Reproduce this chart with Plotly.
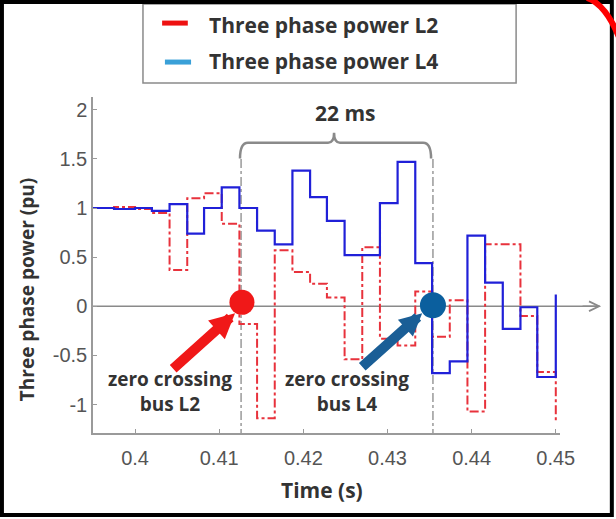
import plotly.graph_objects as go

# ---- data ----
time_s = [0.395, 0.3975, 0.400, 0.4020, 0.4041, 0.4062, 0.4082, 0.4103, 0.4124,
          0.4145, 0.4166, 0.4187, 0.4208, 0.4228, 0.4249, 0.4270, 0.4291, 0.4312,
          0.4333, 0.4353, 0.4374, 0.4395, 0.4416, 0.4437, 0.4458, 0.4478, 0.4500]
power_L2 = [1.00, 1.01, 0.99, 0.95, 0.37, 1.10, 1.15, 0.84, -0.18,
            -1.14, 0.57, 0.35, 0.23, 0.09, -0.54, 0.60, -0.33, -0.40,
            0.15, -0.31, 0.06, -1.07, 0.63, 0.63, -0.10, -0.67, -1.19]
power_L4 = [1.00, 0.99, 1.00, 0.97, 1.04, 0.74, 1.00, 1.21, 1.00,
            0.77, 0.63, 1.38, 1.11, 0.87, 0.52, 0.52, 1.05, 1.47,
            0.44, -0.68, -0.56, 0.72, 0.24, -0.23, -0.01, -0.72, 0.12]

x_tick_vals = [0.40, 0.41, 0.42, 0.43, 0.44, 0.45]
x_tick_text = ["0.4", "0.41", "0.42", "0.43", "0.44", "0.45"]
y_tick_vals = [-1, -0.5, 0, 0.5, 1, 1.5, 2]
y_tick_text = ["-1", "-0.5", "0", "0.5", "1", "1.5", "2"]

series_names = ["Three phase power L2", "Three phase power L4"]
zero_cross_time = [0.4127, 0.4354]
zero_cross_val = [0.04, 0.01]
interval_label = "22 ms"

TXT = "#333333"
AX = "#9a9a9a"
BOLD = "Open Sans"

fig = go.Figure()
fig.add_trace(go.Scatter(x=time_s, y=power_L2, mode="lines", line_shape="hv",
                         line=dict(color="#e8323c", width=2, dash="dashdot"),
                         name=series_names[0], showlegend=False))
fig.add_trace(go.Scatter(x=time_s, y=power_L4, mode="lines", line_shape="hv",
                         line=dict(color="#2020d8", width=2.2),
                         name=series_names[1], showlegend=False))
fig.add_trace(go.Scatter(x=[zero_cross_time[0]], y=[zero_cross_val[0]], mode="markers",
                         marker=dict(color="#f01818", size=25), showlegend=False))
fig.add_trace(go.Scatter(x=[zero_cross_time[1]], y=[zero_cross_val[1]], mode="markers",
                         marker=dict(color="#0b5f9e", size=26), showlegend=False))

shapes = []
# zero line
shapes.append(dict(type="line", xref="paper", yref="y", x0=0, x1=1.085, y0=0, y1=0,
                   line=dict(color="#8a8a8a", width=1.5), layer="below"))
# vertical dash-dot markers
for xv in [0.4126, 0.4354]:
    shapes.append(dict(type="line", xref="x", yref="y", x0=xv, x1=xv, y0=1.50, y1=-1.29,
                       line=dict(color="#a0a0a0", width=1.6, dash="dashdot"), layer="below"))
# brace
brace = ("M 0.41247,1.503 Q 0.41247,1.665 0.41341,1.665 L 0.42294,1.665 "
         "Q 0.42365,1.665 0.42365,1.766 Q 0.42365,1.665 0.42435,1.665 "
         "L 0.43424,1.665 Q 0.43518,1.665 0.43518,1.503")
shapes.append(dict(type="path", xref="x", yref="y", path=brace,
                   line=dict(color="#8a8a8a", width=2.5)))
# legend box and keys
shapes.append(dict(type="rect", xref="paper", yref="paper", x0=0.107, x1=0.906, y0=1.042, y1=1.277,
                   line=dict(color="#8a8a8a", width=1.5), fillcolor="white"))
shapes.append(dict(type="line", xref="paper", yref="paper", x0=0.148, x1=0.203, y0=1.220, y1=1.220,
                   line=dict(color="#ee1111", width=5)))
shapes.append(dict(type="line", xref="paper", yref="paper", x0=0.154, x1=0.210, y0=1.104, y1=1.104,
                   line=dict(color="#3aa0d8", width=5)))
# outer frame
shapes.append(dict(type="rect", xref="paper", yref="paper", x0=-0.195, x1=1.111, y0=-0.244, y1=1.283,
                   line=dict(color="black", width=4)))
# red arc top-right
shapes.append(dict(type="path", xref="paper", yref="paper",
                   path="M 1.058,1.295 Q 1.100,1.275 1.130,1.165",
                   line=dict(color="#ff0000", width=6)))

annotations = []
# zero line arrow head
annotations.append(dict(x=1.088, y=0, xref="paper", yref="y", ax=-20, ay=0, axref="pixel", ayref="pixel",
                        text="", showarrow=True, arrowhead=5, arrowsize=1.3, arrowwidth=1.5,
                        arrowcolor="#8a8a8a"))
# big arrows to zero crossings
annotations.append(dict(x=0.41188, y=-0.07, xref="x", yref="y", ax=0.40435, ay=-0.65,
                        axref="x", ayref="y", text="", showarrow=True, arrowhead=2,
                        arrowsize=0.5, arrowwidth=10, arrowcolor="#f01818"))
annotations.append(dict(x=0.43412, y=-0.07, xref="x", yref="y", ax=0.42682, ay=-0.63,
                        axref="x", ayref="y", text="", showarrow=True, arrowhead=2,
                        arrowsize=0.45, arrowwidth=10, arrowcolor="#1a5e96"))
annotations.append(dict(x=0.4041, y=-0.863, xref="x", yref="y", showarrow=False,
                        xanchor="center", yanchor="middle",
                        text="<b>zero crossing<br>bus L2</b>",
                        font=dict(family=BOLD, size=19, color=TXT)))
annotations.append(dict(x=0.42518, y=-0.863, xref="x", yref="y", showarrow=False,
                        xanchor="center", yanchor="middle",
                        text="<b>zero crossing<br>bus L4</b>",
                        font=dict(family=BOLD, size=19, color=TXT)))
annotations.append(dict(x=0.42506, y=1.97, xref="x", yref="y", showarrow=False,
                        xanchor="center", yanchor="middle",
                        text="<b>" + interval_label + "</b>",
                        font=dict(family=BOLD, size=21, color=TXT)))
# legend texts
annotations.append(dict(x=0.244, y=1.214, xref="paper", yref="paper", xanchor="left", yanchor="middle",
                        showarrow=False, text="<b>" + series_names[0] + "</b>",
                        font=dict(family=BOLD, size=21, color=TXT)))
annotations.append(dict(x=0.244, y=1.107, xref="paper", yref="paper", xanchor="left", yanchor="middle",
                        showarrow=False, text="<b>" + series_names[1] + "</b>",
                        font=dict(family=BOLD, size=21, color=TXT)))
# axis titles
annotations.append(dict(x=0.490, y=-0.170, xref="paper", yref="paper", showarrow=False,
                        xanchor="center", yanchor="middle",
                        text="<b>Time (s)</b>", font=dict(family=BOLD, size=21, color=TXT)))
annotations.append(dict(x=-0.141, y=0.4256, xref="paper", yref="paper", showarrow=False,
                        xanchor="center", yanchor="middle",
                        textangle=-90, text="<b>Three phase power (pu)</b>",
                        font=dict(family=BOLD, size=19, color=TXT)))

fig.update_layout(
    width=616, height=519,
    margin=dict(l=93, r=56, t=97, b=86),
    paper_bgcolor="white", plot_bgcolor="white",
    showlegend=False,
    shapes=shapes, annotations=annotations,
    xaxis=dict(range=[0.395, 0.4505], tickvals=x_tick_vals, ticktext=x_tick_text,
               showgrid=False, zeroline=False, showline=True, linecolor=AX, linewidth=1.5,
               ticks="inside", ticklen=4, tickcolor=AX, tickwidth=1.2, ticklabelstandoff=6,
               tickfont=dict(family="Liberation Sans", size=20, color="#555555")),
    yaxis=dict(range=[-1.29, 2.13], tickvals=y_tick_vals, ticktext=y_tick_text,
               showgrid=False, zeroline=False, showline=True, linecolor=AX, linewidth=1.5,
               ticks="inside", ticklen=4, tickcolor=AX, tickwidth=1.2,
               tickfont=dict(family="Liberation Sans", size=20, color="#555555")),
)

fig.write_html("out.html", config={"displayModeBar": False},
               post_script="document.body.style.margin='0';")
